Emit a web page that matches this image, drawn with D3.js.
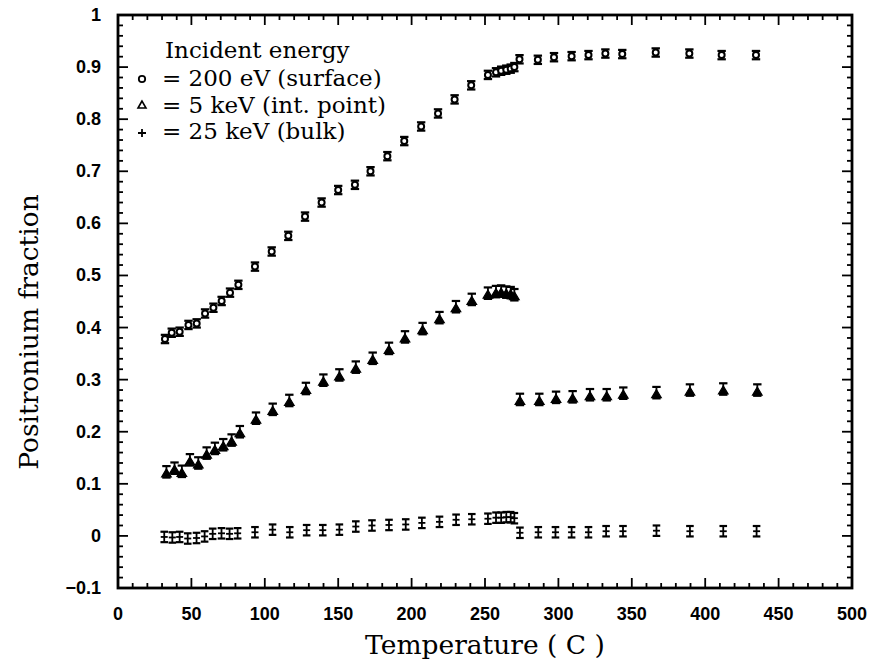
<!DOCTYPE html>
<html><head><meta charset="utf-8">
<script src="https://cdn.jsdelivr.net/npm/d3@7"></script>
<style>body{margin:0;background:#fff}svg{display:block}</style>
</head><body>
<script>
// ---- data ----
const xTicks = [0,50,100,150,200,250,300,350,400,450,500];
const yTicks = [-0.1,0,0.1,0.2,0.3,0.4,0.5,0.6,0.7,0.8,0.9,1];
const legendTitle = "Incident energy";
const legendLabels = ["= 200 eV (surface)", "= 5 keV (int. point)", "= 25 keV (bulk)"];

const surfaceT = [32,36.6,42,48,53.6,59.3,65,70.6,76.3,82,93.3,104.7,116,127.4,138.7,150,161.4,172,183.5,195,206.5,218,229.3,240.6,252,257.5,261,264.5,267.5,270,273.5,286,297,309,320.5,332,343.5,366.3,389.2,411.2,434.6];
const surfaceV = [0.378,0.39,0.392,0.405,0.408,0.427,0.438,0.451,0.467,0.482,0.517,0.546,0.576,0.613,0.640,0.664,0.674,0.700,0.729,0.758,0.786,0.811,0.838,0.865,0.885,0.89,0.893,0.895,0.897,0.9,0.915,0.914,0.919,0.921,0.923,0.926,0.925,0.928,0.926,0.923,0.923];

const intT = [33,38.5,43.5,49,54.7,60.4,66,71.7,77.4,83,94,105.4,116.7,128,139.9,150.8,162,173.5,184.6,195.5,207.5,219,230.2,241,252,257.5,261,264.5,267.5,270,273.8,287,298.4,309.7,321.5,332.9,344.2,366.8,389.6,412.3,435.5];
const intV = [0.123,0.13,0.124,0.146,0.14,0.159,0.168,0.175,0.184,0.2,0.226,0.243,0.26,0.283,0.299,0.309,0.324,0.341,0.36,0.382,0.398,0.419,0.44,0.454,0.466,0.469,0.47,0.468,0.467,0.463,0.262,0.262,0.266,0.267,0.271,0.271,0.274,0.275,0.28,0.282,0.28];

const bulkT = [31.5,37,42,47.5,53.5,59,64.5,70.5,76,81.5,93.3,105.3,117,128.5,139.5,150.8,162,173,184.6,196,207,219,230.3,241,252,257.5,261,264.5,267.5,270,273.8,286.3,298,309,320.5,332.5,344,366.8,389.6,412.3,435];
const bulkV = [-0.002,-0.003,-0.002,-0.005,-0.004,-0.001,0.004,0.005,0.004,0.005,0.007,0.012,0.007,0.011,0.011,0.012,0.018,0.02,0.021,0.022,0.025,0.027,0.031,0.032,0.033,0.035,0.035,0.036,0.036,0.034,0.006,0.007,0.007,0.007,0.007,0.009,0.009,0.01,0.009,0.009,0.009];

const errSurface = 0.008, errInt = 0.011, errBulk = 0.01;

// ---- layout ----
const W = 872, H = 662;
const L = 118, R = 852, T = 15, B = 588;
const x = d3.scaleLinear().domain([0,500]).range([L,R]);
const y = d3.scaleLinear().domain([-0.1,1]).range([B,T]);

const svg = d3.select("body").append("svg").attr("width",W).attr("height",H);
const serif = "'DejaVu Serif', serif";
const sans = "'Liberation Sans', Arial, sans-serif";

// frame
svg.append("rect").attr("x",L).attr("y",T).attr("width",R-L).attr("height",B-T)
  .attr("fill","none").attr("stroke","#000").attr("stroke-width",2.8);

// ticks (all four sides, inward)
const xMinor = d3.range(0,501,10), yMinor = d3.range(-100,1001,20).map(d=>d/1000);
const tk = svg.append("g").attr("stroke","#000").attr("stroke-width",1.8);
xMinor.forEach(v=>{
  const major = xTicks.includes(v), len = major?10:5;
  tk.append("line").attr("x1",x(v)).attr("x2",x(v)).attr("y1",B).attr("y2",B-len);
  tk.append("line").attr("x1",x(v)).attr("x2",x(v)).attr("y1",T).attr("y2",T+len);
});
yMinor.forEach(v=>{
  const major = yTicks.some(t=>Math.abs(t-v)<1e-9), len = major?10:5;
  tk.append("line").attr("y1",y(v)).attr("y2",y(v)).attr("x1",L).attr("x2",L+len);
  tk.append("line").attr("y1",y(v)).attr("y2",y(v)).attr("x1",R).attr("x2",R-len);
});

// tick labels
svg.append("g").selectAll("text").data(xTicks).join("text")
  .attr("x",d=>x(d)).attr("y",620).attr("text-anchor","middle")
  .attr("font-family",sans).attr("font-weight","bold").attr("font-size",18)
  .text(d=>d);
svg.append("g").selectAll("text").data(yTicks).join("text")
  .attr("x",101).attr("y",d=>y(d)+6).attr("text-anchor","end")
  .attr("font-family",sans).attr("font-weight","bold").attr("font-size",18)
  .text(d=>d<0?"\u22120.1":(d===0?"0":(d===1?"1":d3.format(".1f")(d))));

// fitting helper
function fit(sel, target){
  let fs = +sel.attr("font-size");
  const w = sel.node().getComputedTextLength();
  if (w>0) sel.attr("font-size", fs*target/w);
  return +sel.attr("font-size");
}

// axis titles
const xt = svg.append("text").attr("x",(L+R)/2).attr("y",654).attr("text-anchor","middle")
  .attr("font-family",serif).attr("font-size",26).text("Temperature ( C )");
const tfs = fit(xt,240);
svg.append("text").attr("transform","translate(38,332) rotate(-90)").attr("text-anchor","middle")
  .attr("font-family",serif).attr("font-size",tfs).text("Positronium fraction");

// legend
const lfs = 23;
svg.append("text").attr("x",165).attr("y",58).attr("font-family",serif)
  .attr("font-size",lfs).text(legendTitle);
[86,112.5,139].forEach((yy,i)=>{
  svg.append("text").attr("x",162).attr("y",yy).attr("font-family",serif)
    .attr("font-size",lfs).text(legendLabels[i]);
});
// legend symbols
svg.append("circle").attr("cx",142).attr("cy",79).attr("r",3.2).attr("fill","none").attr("stroke","#000").attr("stroke-width",1.8);
svg.append("path").attr("d","M142,101 L138,108 L146,108 Z").attr("fill","none").attr("stroke","#000").attr("stroke-width",1.6);
svg.append("path").attr("d","M142,129 V137 M138,133 H146").attr("stroke","#000").attr("stroke-width",1.8);

// ---- marks ----
function errbar(g, cx, top, bot, cap){
  g.append("line").attr("x1",cx).attr("x2",cx).attr("y1",top).attr("y2",bot).attr("stroke","#000").attr("stroke-width",1.8);
  g.append("line").attr("x1",cx-cap).attr("x2",cx+cap).attr("y1",top).attr("y2",top).attr("stroke","#000").attr("stroke-width",2.2);
  g.append("line").attr("x1",cx-cap).attr("x2",cx+cap).attr("y1",bot).attr("y2",bot).attr("stroke","#000").attr("stroke-width",2.2);
}

// surface: circles with error bars
const gs = svg.append("g");
surfaceT.forEach((t,i)=>{
  const cx = x(t), v = surfaceV[i];
  errbar(gs, cx, y(v+errSurface), y(v-errSurface), 4.2);
  gs.append("circle").attr("cx",cx).attr("cy",y(v)).attr("r",3)
    .attr("fill","#fff").attr("stroke","#000").attr("stroke-width",2);
});

// intermediate: triangles with error bars
const gi = svg.append("g");
intT.forEach((t,i)=>{
  const cx = x(t), v = intV[i], cy = y(v);
  errbar(gi, cx, y(v+errInt), y(v-errInt), 4.2);
  gi.append("path").attr("d",`M${cx},${cy-3} L${cx-4.8},${cy+5} L${cx+4.8},${cy+5} Z`)
    .attr("fill","#000").attr("stroke","#000").attr("stroke-width",1.2);
});

// bulk: plus with error bars
const gb = svg.append("g");
bulkT.forEach((t,i)=>{
  const cx = x(t), v = bulkV[i], cy = y(v);
  errbar(gb, cx, y(v+errBulk), y(v-errBulk), 3.8);
  gb.append("line").attr("x1",cx-3.5).attr("x2",cx+3.5).attr("y1",cy).attr("y2",cy)
    .attr("stroke","#000").attr("stroke-width",1.8);
});
</script>
</body></html>
